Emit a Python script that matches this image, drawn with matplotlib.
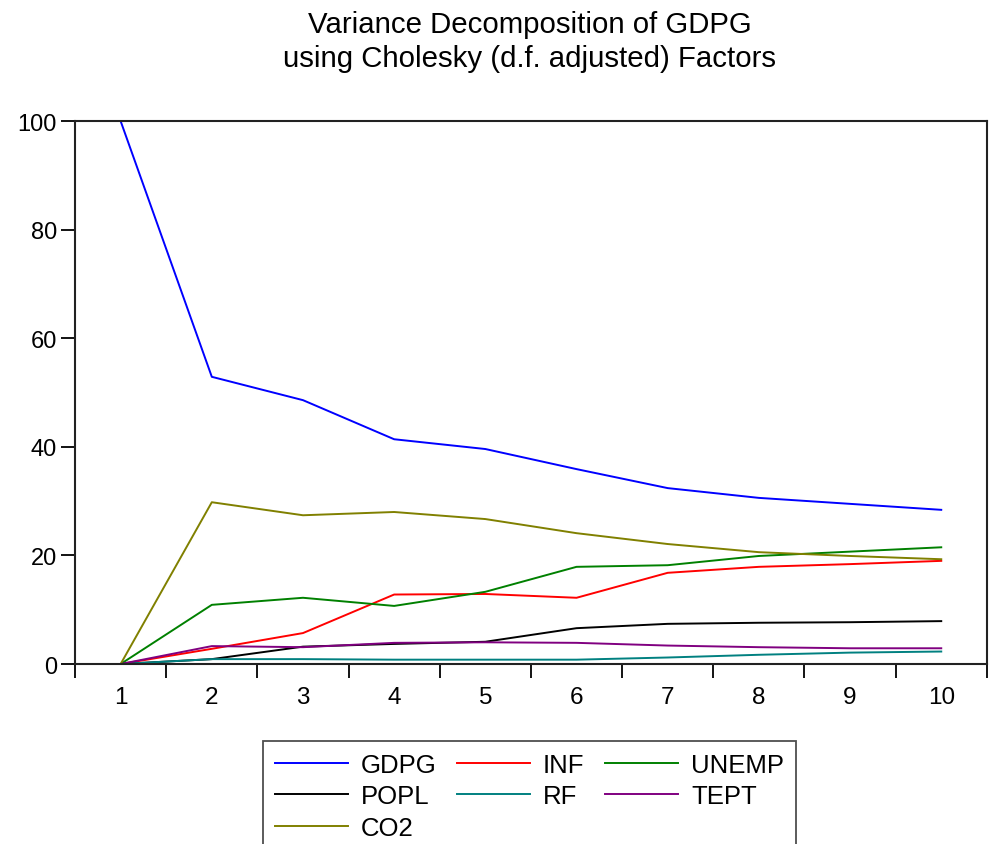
import matplotlib
matplotlib.use("Agg")
import matplotlib.pyplot as plt

plt.rcParams['font.family'] = ['Liberation Sans', 'DejaVu Sans']

# Variance decomposition of GDPG, periods 1..10
periods = [1, 2, 3, 4, 5, 6, 7, 8, 9, 10]
gdpg = [100, 52.9, 48.6, 41.4, 39.6, 35.9, 32.4, 30.6, 29.5, 28.4]
inf = [0, 2.8, 5.7, 12.8, 12.9, 12.2, 16.8, 17.9, 18.4, 19.0]
unemp = [0, 10.9, 12.2, 10.7, 13.3, 17.9, 18.2, 19.9, 20.7, 21.5]
popl = [0, 0.9, 3.2, 3.7, 4.1, 6.6, 7.4, 7.6, 7.7, 7.9]
rf = [0, 0.9, 0.9, 0.8, 0.8, 0.8, 1.2, 1.7, 2.1, 2.3]
tept = [0, 3.3, 3.1, 3.9, 4.0, 3.9, 3.4, 3.1, 2.9, 2.9]
co2 = [0, 29.8, 27.4, 28.0, 26.7, 24.1, 22.1, 20.6, 19.9, 19.3]

fig = plt.figure(figsize=(9.9, 8.45), dpi=100)
ax = fig.add_axes([0.0758, 0.213, 0.921, 0.6425])

lw = 1.4
l_gdpg, = ax.plot(periods, gdpg, color='#0000ff', lw=lw, label='GDPG')
l_inf, = ax.plot(periods, inf, color='#ff0000', lw=lw, label='INF')
l_unemp, = ax.plot(periods, unemp, color='#008000', lw=lw, label='UNEMP')
l_popl, = ax.plot(periods, popl, color='#000000', lw=lw, label='POPL')
l_rf, = ax.plot(periods, rf, color='#008080', lw=lw, label='RF')
l_tept, = ax.plot(periods, tept, color='#800080', lw=lw, label='TEPT')
l_co2, = ax.plot(periods, co2, color='#808000', lw=lw, label='CO2')

ax.set_xlim(0.5, 10.5)
ax.set_ylim(0, 100)
ax.set_yticks([0, 20, 40, 60, 80, 100])
ax.set_xticks(periods)
ax.set_xticks([p + 0.5 for p in range(0, 11)], minor=True)
ax.tick_params(axis='x', which='major', length=0, pad=16, labelsize=17.5)
ax.tick_params(axis='x', which='minor', length=10, width=1.3, direction='out')
ax.tick_params(axis='y', length=10, width=1.3, direction='out', labelsize=17, pad=3)
for s in ax.spines.values():
    s.set_linewidth(1.5)
    s.set_color('#222222')

fig.text(0.535, 1 - 42 / 845, 'Variance Decomposition of GDPG\nusing Cholesky (d.f. adjusted) Factors',
         ha='center', va='center', fontsize=21.2, linespacing=1.28)

handles = [l_gdpg, l_popl, l_co2, l_inf, l_rf, l_unemp, l_tept]
leg = fig.legend(handles=handles, ncol=3, loc='upper left',
                 bbox_to_anchor=(263 / 990, 1 - 742 / 845),
                 fontsize=18.5, frameon=True, fancybox=False,
                 edgecolor='#222222', handlelength=2.85, handletextpad=0.5,
                 columnspacing=0.8, labelspacing=0.3, borderpad=0.45,
                 borderaxespad=0)
leg.get_frame().set_linewidth(1.3)

fig.savefig('out.png', dpi=100)
